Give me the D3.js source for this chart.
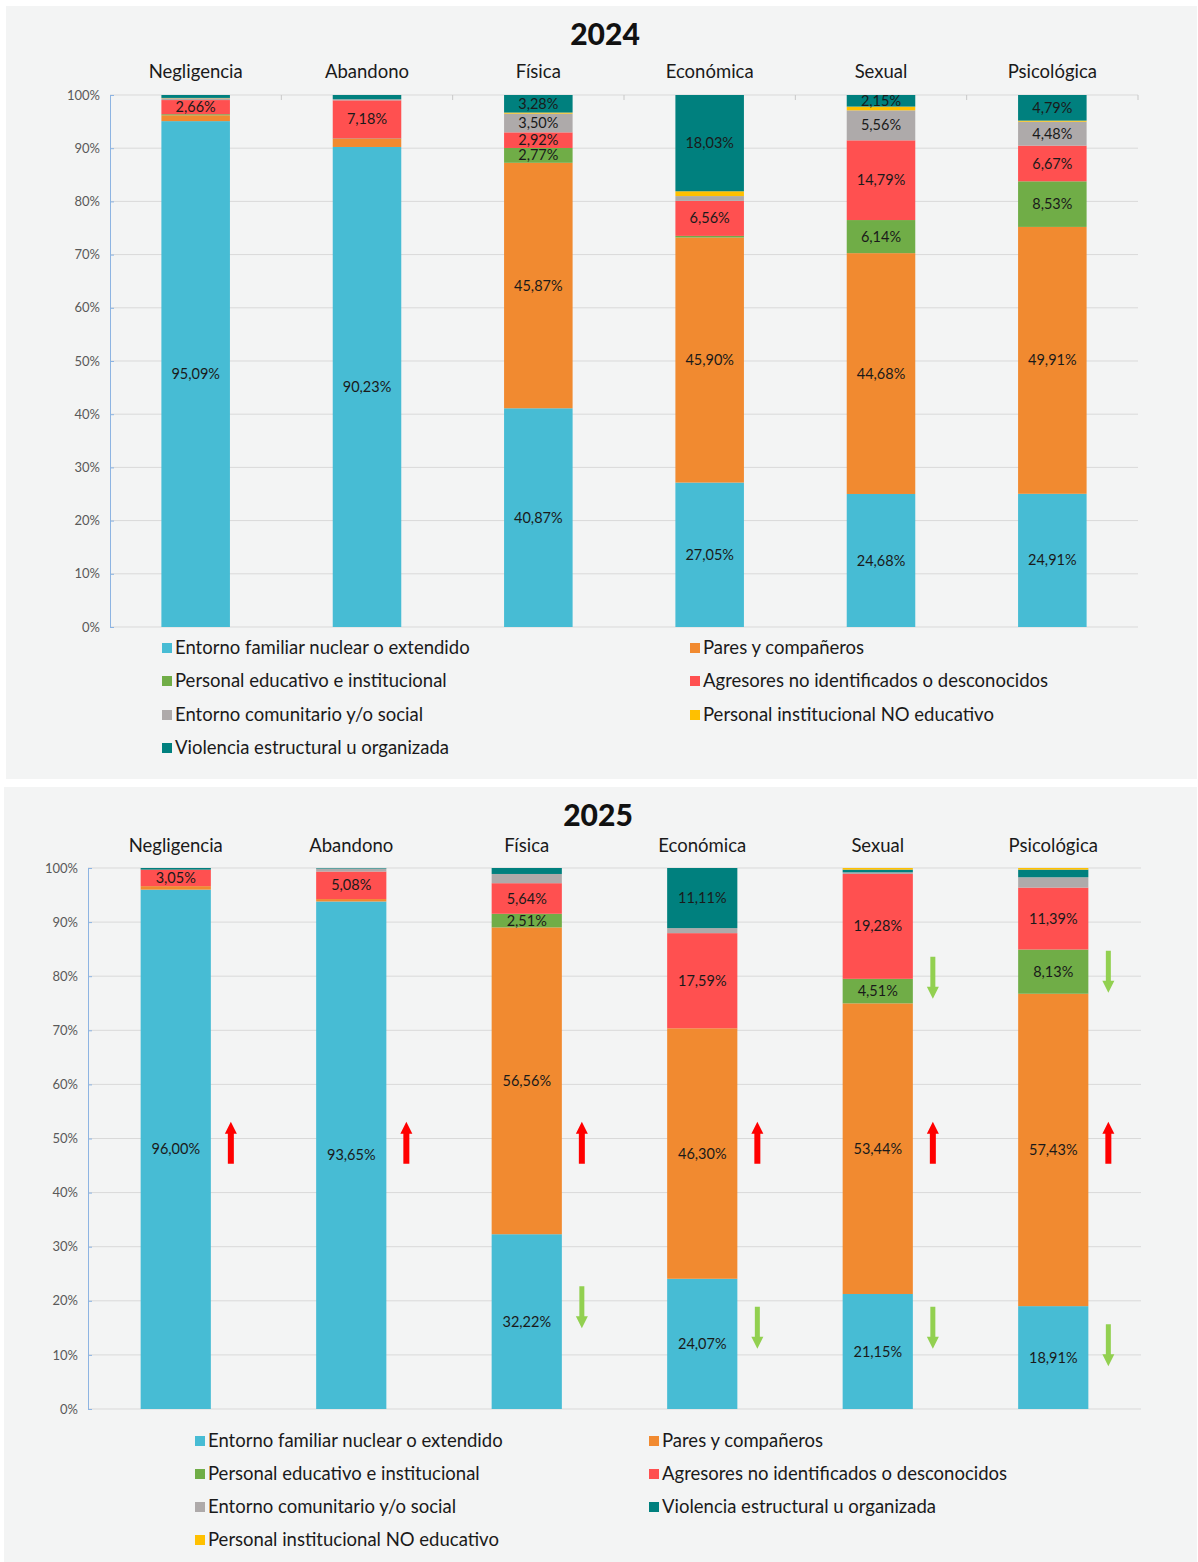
<html>
<head>
  <meta charset="utf-8">
  <title>Agresores por tipo de violencia</title>
  <script src="https://d3js.org/d3.v7.min.js"></script>
  <style>
    body { margin: 0; background: #fff; font-family: Lato, "Open Sans", sans-serif; }
    svg text { font-family: Lato, "Open Sans", sans-serif; }
  </style>
</head>
<body>
  <div id="vis"></div>

  <script type="text/javascript">

    // categories along the top of both charts
    var categories = ['Negligencia', 'Abandono', 'Física', 'Económica', 'Sexual', 'Psicológica'];

    // series names, stacking order bottom -> top
    var series2024 = ['Entorno familiar nuclear o extendido', 'Pares y compañeros', 'Personal educativo e institucional',
                      'Agresores no identificados o desconocidos', 'Entorno comunitario y/o social',
                      'Personal institucional NO educativo', 'Violencia estructural u organizada'];
    var series2025 = ['Entorno familiar nuclear o extendido', 'Pares y compañeros', 'Personal educativo e institucional',
                      'Agresores no identificados o desconocidos', 'Entorno comunitario y/o social',
                      'Violencia estructural u organizada', 'Personal institucional NO educativo'];

    // 2024 values (%), one array per series, same order as categories
    var familiar2024   = [95.09, 90.23, 40.87, 27.05, 24.68, 24.91];
    var pares2024      = [1.10, 1.50, 45.87, 45.90, 44.68, 49.91];
    var educativo2024  = [0.20, 0.09, 2.77, 0.30, 6.14, 8.53];
    var agresores2024  = [2.66, 7.18, 2.92, 6.56, 14.79, 6.67];
    var comunitario2024 = [0.35, 0.20, 3.50, 0.90, 5.56, 4.48];
    var noEducativo2024 = [0.05, 0.00, 0.20, 0.90, 0.70, 0.20];
    var estructural2024 = [0.55, 0.80, 3.28, 18.03, 2.15, 4.79];

    // 2025 values (%)
    var familiar2025   = [96.00, 93.65, 32.22, 24.07, 21.15, 18.91];
    var pares2025      = [0.65, 0.45, 56.56, 46.30, 53.44, 57.43];
    var educativo2025  = [0.00, 0.00, 2.51, 0.00, 4.51, 8.13];
    var agresores2025  = [3.05, 5.08, 5.64, 17.59, 19.28, 11.39];
    var comunitario2025 = [0.00, 0.55, 1.70, 0.93, 0.30, 1.90];
    var estructural2025 = [0.30, 0.10, 1.10, 11.11, 0.50, 1.40];
    var noEducativo2025 = [0.00, 0.00, 0.00, 0.00, 0.30, 0.30];

    // change arrows drawn on the 2025 chart (at = % height of the arrow centre)
    var arrowCats = ['Negligencia', 'Abandono', 'Física', 'Económica', 'Sexual', 'Psicológica',
                     'Física', 'Económica', 'Sexual', 'Sexual', 'Psicológica', 'Psicológica'];
    var arrowDirs = ['up', 'up', 'up', 'up', 'up', 'up', 'down', 'down', 'down', 'down', 'down', 'down'];
    var arrowAt   = [49.2, 49.2, 49.2, 49.2, 49.2, 49.2, 18.8, 15.0, 15.0, 79.7, 80.8, 11.8];

    var yTicks = [0, 10, 20, 30, 40, 50, 60, 70, 80, 90, 100];

    var colors = {
      'Entorno familiar nuclear o extendido': '#47bcd4',
      'Pares y compañeros': '#f18a30',
      'Personal educativo e institucional': '#70ad47',
      'Agresores no identificados o desconocidos': '#ff5050',
      'Entorno comunitario y/o social': '#aeaaaa',
      'Personal institucional NO educativo': '#ffc000',
      'Violencia estructural u organizada': '#00807e'
    };

    var locale = d3.formatLocale({decimal: ',', thousands: '.', grouping: [3], currency: ['', '€']});
    var fmt = locale.format('.2f');

    var svg = d3.select('#vis').append('svg')
                .attr('width', 1198)
                .attr('height', 1562);

    function drawChart(cfg) {

      var rows = categories.map(function(c, i) {
        var r = {cat: c};
        cfg.series.forEach(function(s, j) { r[s] = cfg.values[j][i]; });
        return r;
      });

      var stacked = d3.stack().keys(cfg.series).offset(d3.stackOffsetExpand)(rows);

      var g = svg.append('g');

      g.append('rect')
         .attr('x', cfg.panel[0]).attr('y', cfg.panel[1])
         .attr('width', cfg.panel[2]).attr('height', cfg.panel[3])
         .attr('fill', '#f3f4f4');

      var x = d3.scaleBand().domain(categories)
                .range([cfg.left, cfg.right]).paddingInner(0.6).paddingOuter(0.3);
      var y = d3.scaleLinear().domain([0, 100]).range([cfg.bottom, cfg.top]);
      var yf = d3.scaleLinear().domain([0, 1]).range([cfg.bottom, cfg.top]);

      // title
      g.append('text')
         .attr('x', cfg.titleX).attr('y', cfg.titleY)
         .attr('text-anchor', 'middle').attr('dy', '0.35em')
         .style('font-size', '30px').style('font-weight', '900').style('fill', '#111')
         .text(cfg.title);

      // gridlines
      g.append('g').selectAll('line')
         .data(yTicks)
         .enter().append('line')
           .attr('x1', cfg.left).attr('x2', cfg.right)
           .attr('y1', function(d) { return y(d); })
           .attr('y2', function(d) { return y(d); })
           .attr('stroke', '#d9d9d9').attr('stroke-width', 1);

      // y axis
      var yAxis = d3.axisLeft(y).tickValues(yTicks)
                    .tickFormat(function(d) { return d + '%'; })
                    .tickSizeInner(-4).tickSizeOuter(0).tickPadding(10);
      var ya = g.append('g')
                .attr('transform', 'translate(' + cfg.left + ',0)')
                .call(yAxis);
      ya.select('.domain').attr('stroke', '#8db4e2');
      ya.selectAll('.tick line').attr('stroke', '#8db4e2');
      ya.selectAll('.tick text').style('font-size', '13px').style('fill', '#595959');

      // boundary ticks on top (2024 only)
      if (cfg.topTicks) {
        var half = x.step() * x.paddingInner() / 2;
        g.append('g').selectAll('line')
           .data(categories.slice(1).concat(['end']))
           .enter().append('line')
             .attr('x1', function(d) { return d === 'end' ? cfg.right : x(d) - half; })
             .attr('x2', function(d) { return d === 'end' ? cfg.right : x(d) - half; })
             .attr('y1', cfg.top).attr('y2', cfg.top + 5)
             .attr('stroke', '#c8c8c8');
      }

      // category labels
      g.append('g').selectAll('text')
         .data(categories)
         .enter().append('text')
           .attr('x', function(d) { return x(d) + x.bandwidth() / 2; })
           .attr('y', cfg.catY).attr('dy', '0.35em')
           .attr('text-anchor', 'middle')
           .style('font-size', '18.5px').style('fill', '#1a1a1a')
           .text(function(d) { return d; });

      // bars
      var layers = g.append('g').selectAll('g')
         .data(stacked)
         .enter().append('g')
           .attr('fill', function(d) { return colors[d.key]; });

      layers.selectAll('rect')
         .data(function(d) { return d; })
         .enter().append('rect')
           .attr('x', function(d) { return x(d.data.cat); })
           .attr('y', function(d) { return yf(d[1]); })
           .attr('height', function(d) { return yf(d[0]) - yf(d[1]); })
           .attr('width', x.bandwidth());

      // value labels
      layers.selectAll('text')
         .data(function(d) { return d.map(function(p) { p.key = d.key; return p; }); })
         .enter().filter(function(d) { return d.data[d.key] >= 2; })
         .append('text')
           .attr('x', function(d) { return x(d.data.cat) + x.bandwidth() / 2; })
           .attr('y', function(d) { return (yf(d[0]) + yf(d[1])) / 2; })
           .attr('dy', '0.35em')
           .attr('text-anchor', 'middle')
           .style('font-size', '14.5px').style('fill', '#1a1a1a')
           .text(function(d) { return fmt(d.data[d.key]) + '%'; });

      // arrows
      if (cfg.arrows) {
        var arr = arrowCats.map(function(c, i) { return {cat: c, dir: arrowDirs[i], at: arrowAt[i]}; });
        g.append('g').selectAll('path')
           .data(arr)
           .enter().append('path')
             .attr('transform', function(d) {
               return 'translate(' + (x(d.cat) + x.bandwidth() + 20) + ',' + y(d.at) + ')' +
                      (d.dir === 'down' ? ' rotate(180)' : '');
             })
             .attr('d', function(d) {
               var s = d.dir === 'up' ? 3 : 2.5, hw = 6, L = 21, hh = 12;
               return 'M0,' + (-L) + 'L' + hw + ',' + (-L + hh) + 'L' + s + ',' + (-L + hh) +
                      'L' + s + ',' + L + 'L' + (-s) + ',' + L + 'L' + (-s) + ',' + (-L + hh) +
                      'L' + (-hw) + ',' + (-L + hh) + 'Z';
             })
             .attr('fill', function(d) { return d.dir === 'up' ? '#ff0000' : '#92d050'; });
      }

      // legend
      var leg = g.append('g').selectAll('g')
         .data(cfg.series)
         .enter().append('g')
           .attr('transform', function(d, i) {
             return 'translate(' + cfg.legCols[i % 2] + ',' + cfg.legRows[Math.floor(i / 2)] + ')';
           });
      leg.append('rect')
         .attr('x', 0).attr('y', -5).attr('width', 10).attr('height', 10)
         .attr('fill', function(d) { return colors[d]; });
      leg.append('text')
         .attr('x', 13).attr('dy', '0.35em')
         .style('font-size', '18.5px').style('fill', '#1a1a1a')
         .text(function(d) { return d; });
    }

    drawChart({
      title: '2024', titleX: 605, titleY: 34, catY: 72,
      panel: [6, 6, 1191, 773],
      left: 110, right: 1138, top: 95, bottom: 627,
      series: series2024,
      values: [familiar2024, pares2024, educativo2024, agresores2024, comunitario2024, noEducativo2024, estructural2024],
      legCols: [162, 690], legRows: [648, 681, 715, 748],
      topTicks: true, arrows: false
    });

    drawChart({
      title: '2025', titleX: 598, titleY: 815, catY: 846,
      panel: [4, 787, 1193, 775],
      left: 88, right: 1141, top: 868, bottom: 1409,
      series: series2025,
      values: [familiar2025, pares2025, educativo2025, agresores2025, comunitario2025, estructural2025, noEducativo2025],
      legCols: [195, 649], legRows: [1441, 1474, 1507, 1540],
      topTicks: false, arrows: true
    });

  </script>
</body>
</html>
